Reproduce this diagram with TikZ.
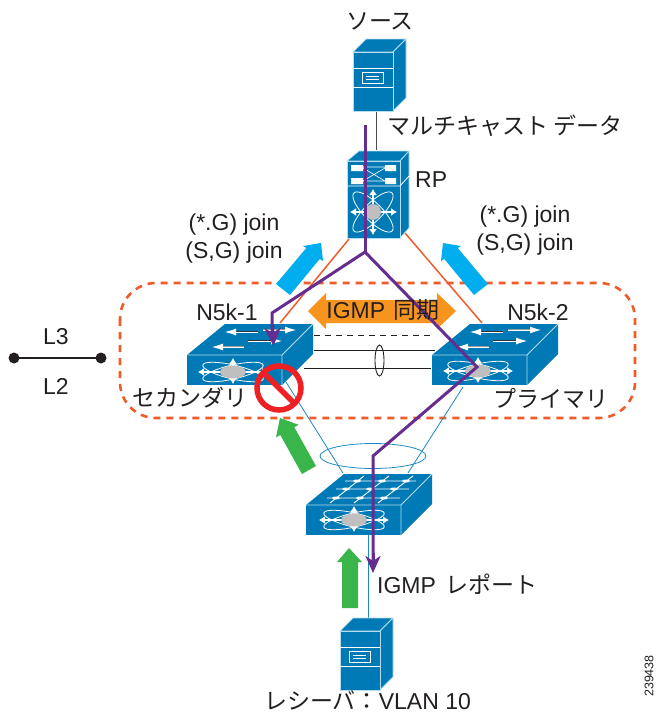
\documentclass[tikz,border=0pt]{standalone}
\usepackage{fontspec}
\setmainfont{Liberation Sans}
\newfontfamily\cjk{Noto Sans CJK JP}
\usetikzlibrary{arrows.meta}
\definecolor{ciscob}{HTML}{007AB6}
\definecolor{edgeb}{HTML}{B5DDEE}
\definecolor{skyb}{HTML}{00AEEF}
\definecolor{grn}{HTML}{39B54A}
\definecolor{org}{HTML}{F7941E}
\definecolor{redo}{HTML}{F15A29}
\definecolor{purp}{HTML}{662D91}
\definecolor{redn}{HTML}{ED2024}
\definecolor{ink}{HTML}{231F20}
\definecolor{lnk}{HTML}{1E88C0}
\tikzset{
  lbl/.style={inner sep=0pt,text=ink,font=\fontsize{23}{27}\selectfont},
  lbs/.style={inner sep=0pt,text=ink,font=\fontsize{23}{27}\selectfont\cjk},
  body/.style={fill=ciscob,draw=edgeb,line width=.8pt,line join=round},
  wht/.style={draw=white,line width=.8pt},
  fat/.style={white,line width=1.8pt,{Latex[length=6pt,width=8pt]}-{Latex[length=6pt,width=8pt]}},
  thinw/.style={draw=white,line width=.8pt,-{Latex[length=11pt,width=7pt,fill=white]}},
  pur/.style={draw=purp,line width=3pt,line join=miter},
  rl/.style={draw=redo,line width=1.5pt},
  bl/.style={draw=lnk,line width=.8pt},
  blk/.style={draw=ink,line width=.9pt},
}
\newcommand{\srvico}[2]{\begin{scope}[shift={(#1,#2)}]
  \path[body] (0,0) -- (13,-13) -- (53,-13) -- (40,0) -- cycle;
  \path[body] (40,0) -- (53,-13) -- (53,46) -- (40,59) -- cycle;
  \path[body] (0,0) rectangle (40,59);
  \draw[wht] (0,16) -- (40,16) (0,35) -- (40,35);
  \draw[wht] (9,20) rectangle (30,31);
  \draw[white,line width=.6pt] (13,24) -- (26,24) (13,27) -- (26,27);
\end{scope}}
\newcommand{\faceico}[2]{\begin{scope}[shift={(#1,#2)}]
  \draw[white,line width=.8pt] (0,0) ellipse [x radius=31pt,y radius=7pt,rotate=13];
  \draw[white,line width=.8pt] (0,0) ellipse [x radius=31pt,y radius=7pt,rotate=-13];
  \draw[fat] (-35,0) -- (35,0);
  \draw[fat] (0,-14) -- (0,12);
  \fill[black!25] (0,0) ellipse [x radius=13pt,y radius=6.5pt];
\end{scope}}
\newcommand{\swbase}[2]{\begin{scope}[shift={(#1,#2)}]
  \path[fill=ciscob] (0,0) -- (38,-31) -- (126,-31) -- (95,0) -- cycle;
  \path[fill=ciscob] (95,0) -- (126,-31) -- (126,-1) -- (95,30) -- cycle;
  \path[fill=ciscob] (0,0) rectangle (95,30);
  \draw[edgeb,line width=.8pt] (0,0) -- (95,0) -- (95,30) (95,0) -- (126,-31);
\end{scope}}
\newcommand{\toparrows}[2]{\begin{scope}[shift={(#1,#2)}]
  \draw[black!80,line width=.7pt] (71,-23.8) -- (46,-23.8) (61,-14.8) -- (85,-14.8);
  \draw[black!40,line width=.7pt] (57,-8.8) -- (35,-8.8) (76,-25.8) -- (98,-25.8);
  \draw[thinw] (71,-23) -- (38,-23);
  \draw[thinw] (76,-25) -- (109,-25);
  \draw[thinw] (61,-14) -- (95,-14);
  \draw[thinw] (57,-8) -- (25,-8);
\end{scope}}
\begin{document}
\begin{tikzpicture}[x=1pt,y=-1pt]
\useasboundingbox (0,0) rectangle (658,715);
% anchors
\coordinate (srvB) at (376,112);
\coordinate (rpT) at (376,150);
\coordinate (rpBL) at (349,239);
\coordinate (rpBR) at (405,233);
\coordinate (n1T) at (280,323);
\coordinate (n2T) at (482,323);
\coordinate (n1D1) at (314,335);
\coordinate (n2D1) at (433,335);
\coordinate (n1S1) at (314,350);
\coordinate (n2S1) at (435,350);
\coordinate (n1S2) at (304,368);
\coordinate (n2S2) at (431,368);
\coordinate (n1B) at (286,382);
\coordinate (n2B) at (463,387);
\coordinate (cTL) at (343,473);
\coordinate (cTR) at (408,473);
\coordinate (cB) at (368,535);
\coordinate (rcvT) at (368,618);
\coordinate (lA) at (14,358);
\coordinate (lB) at (101,358);
\coordinate (pStart) at (365,125);
\coordinate (pFork) at (365,252);
\coordinate (pE1) at (272,313);
\coordinate (pE2) at (272,332);
\coordinate (pE3) at (477,367);
\coordinate (pE4) at (373,456);
\coordinate (pTip) at (373,573);
% peer box
\draw[redo,line width=2.6pt,dash pattern=on 7pt off 6pt,rounded corners=36pt] (120,283) rectangle (635,418);
% links
\draw[black!70,line width=.8pt] (srvB) -- (rpT);
\draw[rl] (rpBL) -- (n1T);
\draw[rl] (rpBR) -- (n2T);
\draw[blk,dash pattern=on 6pt off 5pt] (n1D1) -- (n2D1);
\draw[blk] (n1S1) -- (n2S1);
\draw[blk] (n1S2) -- (n2S2);
\draw[blk] (379.5,360.5) ellipse [x radius=4.5pt,y radius=15.5pt];
\draw[bl] (n1B) -- (cTL);
\draw[bl] (n2B) -- (cTR);
\draw[bl] (373,456) ellipse [x radius=53pt,y radius=12.5pt];
\draw[bl] (cB) -- (rcvT);
% servers
\srvico{353}{52}
\srvico{340}{631}
% RP
\path[body] (347,161) -- (359,151) -- (409,151) -- (400,161) -- cycle;
\path[body] (400,161) -- (409,151) -- (409,228) -- (400,238) -- cycle;
\path[body] (347,161) rectangle (400,238);
\draw[wht] (347,186) -- (400,186) (400,186) -- (409,176);
\fill[white] (351,165) rectangle (363,171) (385,165) rectangle (396,171) (351,178) rectangle (363,184) (385,178) rectangle (396,184);
\draw[white,line width=.6pt] (363,167) -- (385,167) (363,181) -- (385,181) (363,168) -- (385,181) (363,181) -- (385,168);
\draw[white,line width=.8pt] (373,212) ellipse [x radius=27pt,y radius=9pt,rotate=45];
\draw[white,line width=.8pt] (373,212) ellipse [x radius=27pt,y radius=9pt,rotate=-45];
\draw[fat] (350,212) -- (397,212);
\draw[fat] (373,189) -- (373,235);
\fill[black!25] (373,212) circle (8pt);
% switches
\swbase{187}{355}
\toparrows{187}{355}
\faceico{233}{372}
\swbase{432}{355}
\toparrows{432}{355}
\faceico{478}{371}
\swbase{306}{505}
\faceico{354}{520}
\draw[white,line width=.9pt] (345,481) -- (416,481) (336,489) -- (409,489) (327,498) -- (400,498)
  (330,503) -- (364,476) (354,503) -- (389,476) (378,503) -- (413,476);
\foreach \px/\py in {336/498,360/498,384/498,346/489,370/489,394/489,357/481,382/481,406/481}
  \fill[white] (\px,\py) ellipse [x radius=4pt,y radius=1.5pt];
% big arrows
\fill[skyb] (474,295) -- (444.3,259) -- (441,261) -- (443,243) -- (461,246) -- (457.7,248) -- (488,284) -- cycle;
\fill[skyb] (290,295) -- (319.7,259) -- (323,261) -- (321,243) -- (303,246) -- (306.3,248) -- (276,284) -- cycle;
\fill[grn] (302,474) -- (280.3,435) -- (276,437.4) -- (280,418) -- (298.6,424.8) -- (294.3,427.2) -- (316,466) -- cycle;
\fill[grn] (342,608) -- (342,562) -- (337,562) -- (349,548) -- (362,562) -- (358,562) -- (358,608) -- cycle;
\fill[org] (308,311) -- (326,293) -- (326,300) -- (437,300) -- (437,293) -- (456,311) -- (437,329) -- (437,323) -- (326,323) -- (326,329) -- cycle;
% purple paths
\draw[pur] (pStart) -- (pFork);
\draw[pur] (pFork) -- (pE1) -- (pE2);
\draw[pur,-{Stealth[length=18pt,width=16pt,inset=5pt]}] (272.5,326) -- (273.5,346);
\draw[pur] (pFork) -- (pE3) -- (pE4) -- (373,560);
\draw[pur,-{Stealth[length=17pt,width=15pt,inset=5pt]}] (373,553) -- (pTip);
% prohibition
\draw[redn,line width=5.5pt] (279,388) circle (22pt);
\draw[redn,line width=5.5pt] (263.5,372.5) -- (294.5,403.5);
% L3/L2
\draw[ink,line width=2pt] (lA) -- (lB);
\fill[ink] (lA) circle (5.5pt) (lB) circle (5.5pt);
% labels
\node[lbs] (tSrc) at (380,21) {ソース};
\node[lbs,anchor=west] (tData) at (387,126) {マルチキャスト データ};
\node[lbl,anchor=west] (tRP) at (415,180) {RP};
\node[lbl] (tJ1) at (234,225) {(*.G) join};
\node[lbl] (tJ2) at (234,253) {(S,G) join};
\node[lbl] (tJ3) at (525,217) {(*.G) join};
\node[lbl] (tJ4) at (525,245) {(S,G) join};
\node[lbl] (tN1) at (227,312) {N5k-1};
\node[lbl] (tN2) at (538,312) {N5k-2};
\node[lbl] (tSync) at (383,310) {IGMP\hspace{2pt} {\cjk 同期}};
\node[lbl] (tL3) at (56,337) {L3};
\node[lbl] (tL2) at (56,386) {L2};
\node[lbs] (tSec) at (190,398) {セカンダリ};
\node[lbs] (tPri) at (551,398) {プライマリ};
\node[lbl,anchor=west] (tRep) at (377,584) {IGMP\hspace{3pt} {\cjk レポート}};
\node[lbl,anchor=base] (tRcv) at (367.5,709) {{\cjk レシーバ：}VLAN 10};
\node[inner sep=0pt,text=ink,font=\fontsize{12.5}{14}\selectfont,rotate=90] (tId) at (649,676) {239438};
\end{tikzpicture}
\end{document}
